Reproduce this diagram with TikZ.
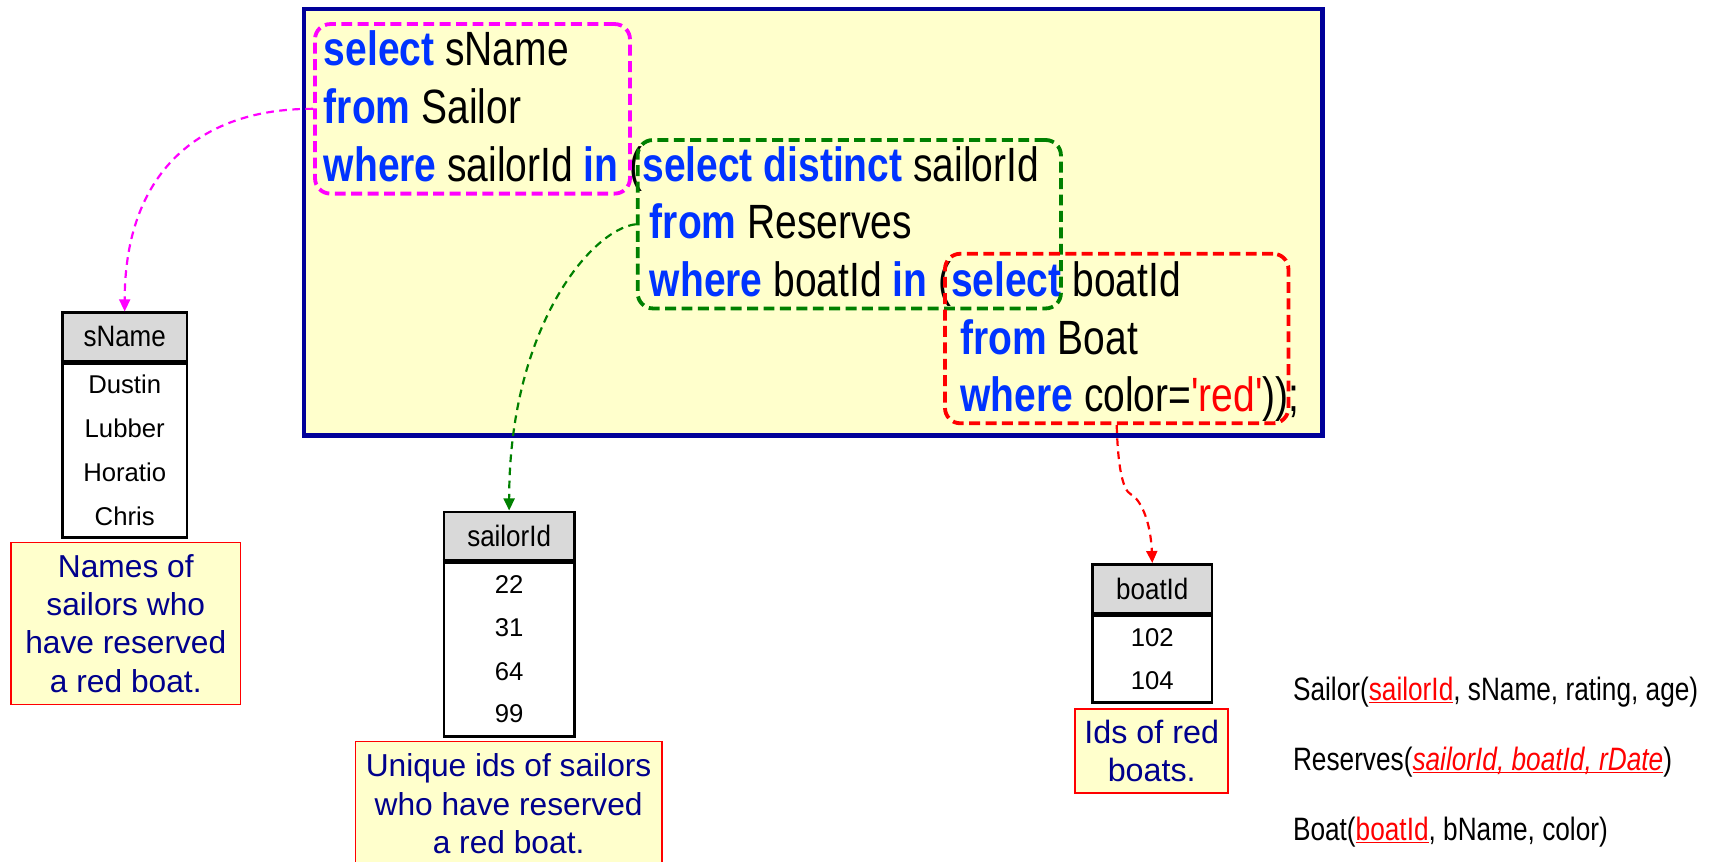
\documentclass[tikz,border=0pt]{standalone}
\usepackage{fontspec}
\setmainfont{Liberation Sans}
\newfontfamily\narrowfont{Liberation Sans}[FakeStretch=0.81]
\newfontfamily\hdrfont{Liberation Sans}[FakeStretch=0.88]
\usetikzlibrary{arrows.meta}
\definecolor{kwblue}{RGB}{0,51,255}
\definecolor{paleyellow}{RGB}{255,255,204}
\definecolor{navy}{RGB}{0,0,153}
\definecolor{capnavy}{RGB}{0,0,140}
\definecolor{dkgreen}{RGB}{0,128,0}
\definecolor{magentapure}{RGB}{255,0,255}
\definecolor{purered}{RGB}{255,0,0}
\definecolor{hdrgray}{RGB}{217,217,217}
\newcommand{\kw}[1]{\textbf{\textcolor{kwblue}{#1}}}
\newcommand{\redul}[1]{\textcolor{purered}{\setbox0\hbox{#1}\rlap{\rule[-3pt]{\wd0}{1.6pt}}\box0}}
\begin{document}
\begin{tikzpicture}[x=1pt,y=-1pt,
 mainbox/.style={draw=navy, line width=4pt, fill=paleyellow, inner sep=0},
 sql/.style={anchor=base west, inner sep=0, font=\narrowfont\fontsize{44}{52.8}\selectfont},
 qbox/.style={draw=#1, line width=3.5pt, rounded corners=14pt, dash pattern=on 10pt off 5pt, inner sep=0},
 qarrow/.style={draw=#1, line width=2pt, dash pattern=on 7pt off 5pt, -{Triangle[length=11pt,width=10pt,fill=#1]}},
 hdr/.style={draw=black, line width=2.5pt, fill=hdrgray, inner sep=0, font=\hdrfont\fontsize{27}{30}\selectfont},
 tbody/.style={draw=black, line width=2.5pt, fill=white, inner sep=0},
 cell/.style={anchor=base, inner sep=0, font=\fontsize{23.5}{28}\selectfont},
 caption/.style={draw=purered, line width=1.5pt, fill=paleyellow, inner sep=0, align=center, text=capnavy, font=\fontsize{29}{35}\selectfont},
 schema/.style={anchor=base west, inner sep=0, font=\narrowfont\fontsize{29.6}{35}\selectfont},
]
\useasboundingbox (0,0) rectangle (1568,788);

% main query box
\node[mainbox, minimum width=931pt, minimum height=390pt] (main) at (743.5,203) {};

\node[sql] (l1) at (296,60) {\kw{select} sName};
\node[sql] (l2) at (296,113) {\kw{from} Sailor};
\node[sql] (l3) at (296,166) {\kw{where} sailorId \kw{in} (\kw{select distinct} sailorId};
\node[sql] (l4) at (594,218) {\kw{from} Reserves};
\node[sql] (l5) at (594,271) {\kw{where} boatId \kw{in} (\kw{select} boatId};
\node[sql] (l6) at (878,324) {\kw{from} Boat};
\node[sql] (l7) at (878,376) {\kw{where} color=\textcolor{purered}{'red'}));};

% dashed sub-query boxes
\node[qbox=magentapure, minimum width=288pt, minimum height=155pt] (qmag) at (432,99.5) {};
\node[qbox=dkgreen, minimum width=387pt, minimum height=154pt] (qgreen) at (776.5,205) {};
\node[qbox=purered, minimum width=314pt, minimum height=155pt] (qred) at (1021,309.5) {};

% sName table
\node[tbody, minimum width=114pt, minimum height=160pt, anchor=north] (snameb) at (114,330) {};
\node[hdr, minimum width=114pt, minimum height=44pt] (snameh) at (114,308) {sName};
\draw[line width=4.5pt] (snameh.south west) -- (snameh.south east);
\node[cell] (sn1) at (114,360) {Dustin};
\node[cell] (sn2) at (114,400) {Lubber};
\node[cell] (sn3) at (114,440) {Horatio};
\node[cell] (sn4) at (114,480) {Chris};
\node[caption, minimum width=210pt, minimum height=148pt] (cap1) at (115,570) {Names of\\sailors who\\have reserved\\a red boat.};

% sailorId table
\node[tbody, minimum width=119pt, minimum height=160pt, anchor=north] (sidb) at (465.5,512) {};
\node[hdr, minimum width=119pt, minimum height=44pt] (sidh) at (465.5,490) {sailorId};
\draw[line width=4.5pt] (sidh.south west) -- (sidh.south east);
\node[cell] (si1) at (465.5,543) {22};
\node[cell] (si2) at (465.5,582) {31};
\node[cell] (si3) at (465.5,622) {64};
\node[cell] (si4) at (465.5,661) {99};
\node[caption, minimum width=280pt, minimum height=114pt] (cap2) at (465,735) {Unique ids of sailors\\who have reserved\\a red boat.};

% boatId table
\node[tbody, minimum width=109pt, minimum height=80pt, anchor=north] (bidb) at (1053.5,561) {};
\node[hdr, minimum width=109pt, minimum height=45pt] (bidh) at (1053.5,538.5) {boatId};
\draw[line width=4.5pt] (bidh.south west) -- (bidh.south east);
\node[cell] (bi1) at (1053.5,591) {102};
\node[cell] (bi2) at (1053.5,630) {104};
\node[caption, minimum width=140pt, minimum height=77pt, font=\fontsize{29.5}{35}\selectfont] (cap3) at (1053,686.5) {Ids of red\\boats.};

% schema
\node[schema] (s1) at (1182,640) {Sailor(\redul{sailorId}, sName, rating, age)};
\node[schema] (s2) at (1182,704) {Reserves(\redul{\itshape sailorId, boatId, rDate})};
\node[schema] (s3) at (1182,768) {Boat(\redul{boatId}, bName, color)};

% connectors
\draw[qarrow=magentapure] (qmag.west) .. controls (180,99) and (114,160) .. (snameh.north);
\draw[qarrow=dkgreen] (qgreen.west) .. controls (540,210) and (465.5,300) .. (sidh.north);
\coordinate (rk) at (1034,452);
\draw[qarrow=purered] (qred.south) .. controls (1022,425) and (1026,448) .. (rk) .. controls (1042,456) and (1052,475) .. (bidh.north);
\end{tikzpicture}
\end{document}
